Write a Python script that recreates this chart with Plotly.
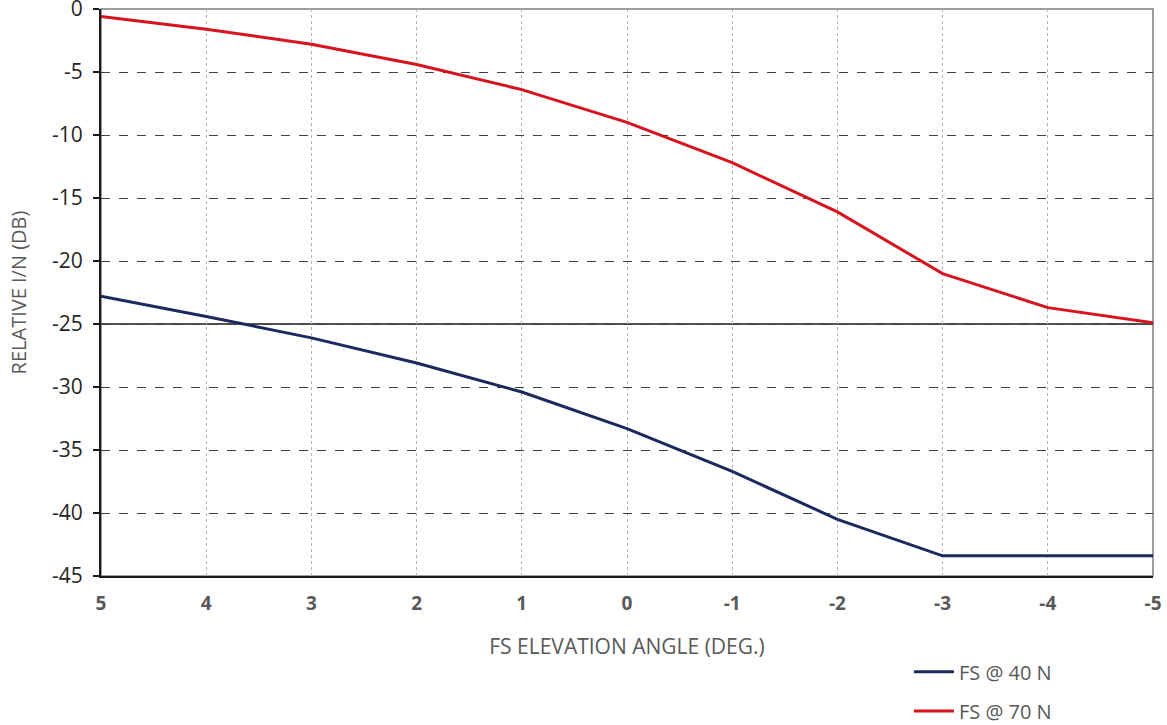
import plotly.graph_objects as go

angles = [5, 4, 3, 2, 1, 0, -1, -2, -3, -4, -5]
fs_40n = [-22.8, -24.4, -26.1, -28.1, -30.4, -33.3, -36.7, -40.5, -43.4, -43.4, -43.4]
fs_70n = [-0.6, -1.6, -2.8, -4.4, -6.4, -9.0, -12.2, -16.1, -21.0, -23.7, -24.9]
threshold = -25
y_ticks = [0, -5, -10, -15, -20, -25, -30, -35, -40, -45]
x_ticks = [5, 4, 3, 2, 1, 0, -1, -2, -3, -4, -5]

fig = go.Figure()
fig.add_trace(go.Scatter(x=angles, y=fs_40n, mode="lines", name="FS @ 40 N",
                         line=dict(color="#1b2a5e", width=3), legend="legend"))
fig.add_trace(go.Scatter(x=angles, y=fs_70n, mode="lines", name="FS @ 70 N",
                         line=dict(color="#d9131e", width=3), legend="legend2"))

fig.add_shape(type="rect", xref="paper", yref="paper", x0=0, x1=1, y0=0, y1=1,
              line=dict(color="#7f7f7f", width=1.5), layer="below")
fig.add_shape(type="line", xref="paper", yref="y", x0=0, x1=1, y0=threshold, y1=threshold,
              line=dict(color="#1a1a1a", width=1.5), layer="below")

leg_common = dict(xanchor="left", yanchor="middle",
                  font=dict(size=20, color="#595959", family="Open Sans"),
                  bgcolor="rgba(0,0,0,0)", itemwidth=40)
fig.update_layout(
    width=1167, height=725,
    margin=dict(l=101, r=14, t=9, b=149, autoexpand=False),
    paper_bgcolor="white", plot_bgcolor="white",
    font=dict(family="Open Sans", color="#595959"),
    legend=dict(x=0.768, y=-0.169, **leg_common),
    legend2=dict(x=0.768, y=-0.238, **leg_common),
    showlegend=True,
)
fig.update_xaxes(
    range=[5, -5], tickvals=x_ticks, ticktext=[str(v) for v in x_ticks],
    tickfont=dict(size=19, color="#595959", family="Open Sans", weight="bold"),
    showgrid=True, gridcolor="#b5b5b5", griddash="dot", gridwidth=1,
    showline=True, linecolor="#1a1a1a", linewidth=2,
    ticks="", ticklabelstandoff=9, zeroline=False, ticklabeloverflow="allow",
    title=dict(text="FS ELEVATION ANGLE (DEG.)", font=dict(size=21, color="#595959"), standoff=25),
    automargin=False,
)
fig.update_yaxes(
    range=[-45, 0], tickvals=y_ticks, ticktext=[str(v) for v in y_ticks],
    tickfont=dict(size=21, color="#262626", family="Open Sans"),
    showgrid=True, gridcolor="#404040", griddash="dash", gridwidth=1,
    showline=True, linecolor="#1a1a1a", linewidth=2,
    ticks="outside", ticklen=6, tickcolor="#1a1a1a", tickwidth=1.5,
    ticklabelstandoff=6, zeroline=False, ticklabeloverflow="allow",
    title=dict(text="RELATIVE I/N (DB)", font=dict(size=20, color="#595959"), standoff=20),
    automargin=False,
)

fig.write_html("out.html", config={"displayModeBar": False},
               post_script="document.body.style.margin='0';document.body.style.overflow='hidden';")
